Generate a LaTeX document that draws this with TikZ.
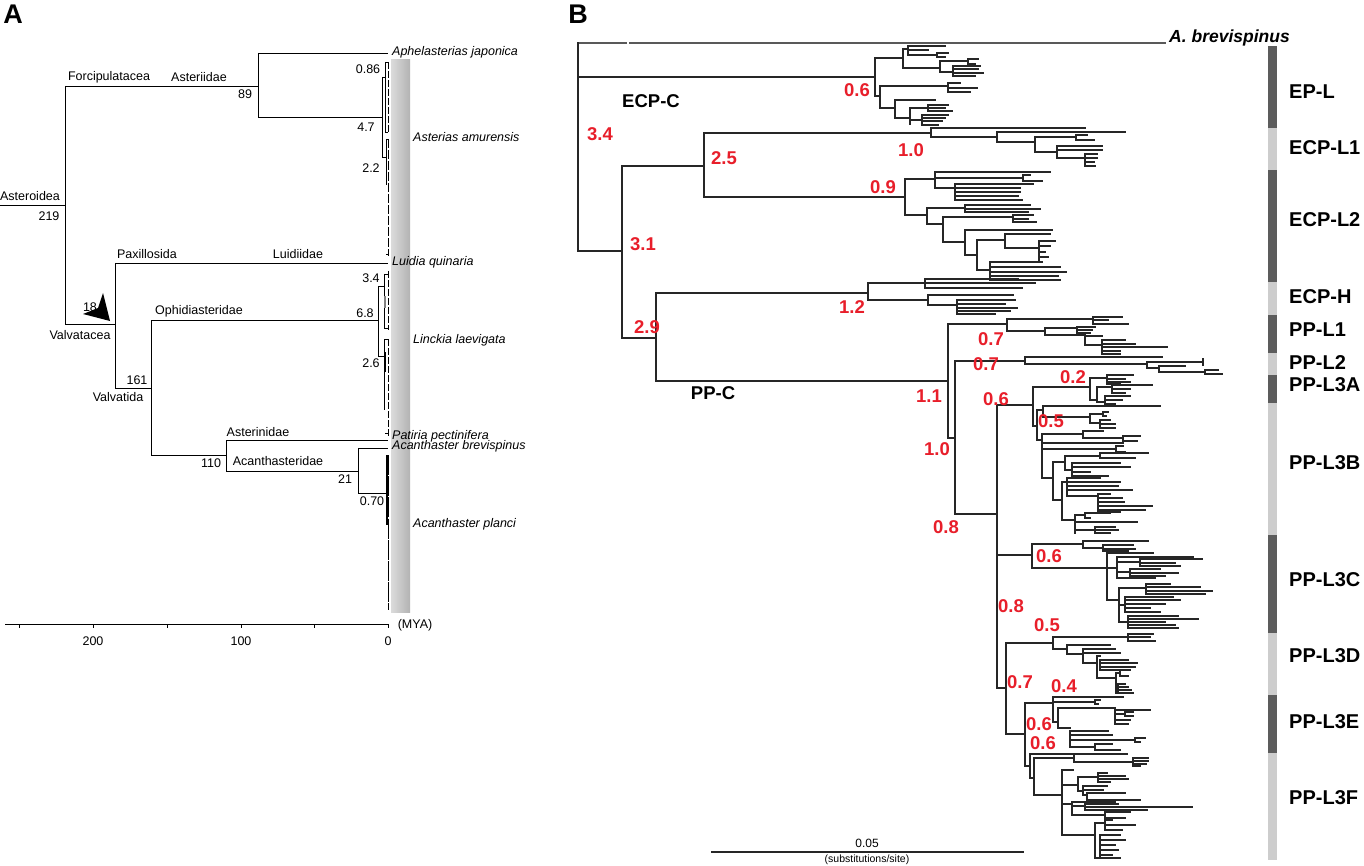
\documentclass[tikz,border=0pt]{standalone}
\usepackage{fontspec}
\setmainfont{Liberation Sans}
\definecolor{myred}{RGB}{232,30,42}
\definecolor{dkbar}{RGB}{92,92,92}
\definecolor{ltbar}{RGB}{205,205,205}
\newcommand\mycl[4]{%
  \draw[tB] (#1,#2) -- (#1,#3);
  \foreach \yy/\xx in {#4}{\draw[tB] (#1,\yy) -- (\xx,\yy);}%
}
\begin{document}
\begin{tikzpicture}[x=1pt,y=-1pt,
  tA/.style={draw=black,line width=0.9pt},
  tB/.style={draw=black!85,line width=1.1pt,line cap=rect},
  ta/.style={font=\fontsize{12.5}{15}\selectfont,inner sep=0pt},
  tai/.style={font=\fontsize{12.5}{15}\selectfont\itshape,inner sep=0pt,anchor=west},
  rl/.style={font=\fontsize{18.5}{20}\selectfont\bfseries,text=myred,inner sep=0pt},
  bl/.style={font=\fontsize{18.5}{20}\selectfont\bfseries,inner sep=0pt},
  grp/.style={font=\fontsize{20}{22}\selectfont\bfseries,inner sep=0pt,anchor=west},
  panel/.style={font=\fontsize{27}{30}\selectfont\bfseries,inner sep=0pt}]
\useasboundingbox (0,0) rectangle (1364,866);
\fill[white] (0,0) rectangle (1364,866);

%% ================= PANEL A =================
\node[panel] (labA) at (13,14) {A};
\shade[left color=gray!28, middle color=gray!6, right color=gray!60] (391,60) rectangle (410,612);

% backbone
\draw[tA] (0,205) -- (65,205);
\draw[tA] (65,86) -- (65,324);
\draw[tA] (65,86) -- (258,86);
\draw[tA] (258,53) -- (258,117);
\draw[tA] (258,53) -- (388,53);
\draw[tA] (258,117) -- (382,117);
\draw[tA] (65,324) -- (115,324);
\draw[tA] (115,263) -- (115,388);
\draw[tA] (115,263) -- (388,263);
\draw[tA] (115,388) -- (151,388);
\draw[tA] (151,320) -- (151,455);
\draw[tA] (151,320) -- (378,320);
\draw[tA] (151,455) -- (226,455);
\draw[tA] (226,440) -- (226,471);
\draw[tA] (226,440) -- (388,440);
\draw[tA] (226,471) -- (358,471);
\draw[tA] (358,448) -- (358,493);
\draw[tA] (358,448) -- (388,448);
\draw[tA] (358,493) -- (387,493);

% Asterias amurensis cluster
\draw[tA] (382,77) -- (382,157);
\draw[tA] (382,77) -- (385,77);
\draw[tA] (385,62) -- (385,132);
\foreach \yy in {62,132} {\draw[tA] (385,\yy) -- (388,\yy);}
\draw[tA,dash pattern=on 7pt off 2pt] (388,62) -- (388,132);
\draw[tA] (382,157) -- (386,157);
\draw[tA] (386,139) -- (386,185);
\draw[line width=1.6pt] (386.5,158) -- (386.5,182);
\foreach \yy in {139,254} {\draw[tA] (386,\yy) -- (388.5,\yy);}
\draw[tA,dash pattern=on 9pt off 2pt] (388.5,139) -- (388.5,256);

% Linckia cluster
\draw[tA] (378,286) -- (378,356);
\draw[tA] (378,286) -- (384,286);
\draw[tA] (384,274) -- (384,328);
\draw[line width=1.6pt,gray] (385,296) -- (385,308);
\foreach \yy in {274,328} {\draw[tA] (384,\yy) -- (388,\yy);}
\draw[tA,dash pattern=on 7pt off 2pt] (388,271) -- (388,330);
\draw[tA] (378,356) -- (384,356);
\draw[tA] (384,339) -- (384,410);
\draw[line width=1.5pt] (385,352) -- (385,372);
\foreach \yy in {339,433} {\draw[tA] (385,\yy) -- (388,\yy);}
\draw[tA,dash pattern=on 7pt off 2pt] (388,339) -- (388,436);

% Acanthaster planci cluster
\draw[line width=1.3pt] (387,455) -- (387,525);
\draw[tA,dash pattern=on 20pt off 1.2pt] (388,455) -- (388,610);

% taxon names
\node[tai] (aph) at (392,52) {Aphelasterias japonica};
\node[tai] (ast) at (413,137) {Asterias amurensis};
\node[tai] (lui) at (392,262) {Luidia quinaria};
\node[tai] (lin) at (413,340) {Linckia laevigata};
\node[tai] (pat) at (392,436) {Patiria pectinifera};
\node[tai] (acb) at (392,446) {Acanthaster brevispinus};
\node[tai] (acp) at (413,524) {Acanthaster planci};

% clade names and ages
\node[ta] (n1) at (30,196) {Asteroidea};
\node[ta] (n2) at (49,216) {219};
\node[ta] (n3) at (109,77) {Forcipulatacea};
\node[ta] (n4) at (199,77) {Asteriidae};
\node[ta] (n5) at (245,94) {89};
\node[ta] (n6) at (368,69) {0.86};
\node[ta] (n7) at (366,127) {4.7};
\node[ta] (n8) at (371,168) {2.2};
\node[ta] (n9) at (147,254) {Paxillosida};
\node[ta] (n10) at (298,254) {Luidiidae};
\node[ta] (n11) at (371,278) {3.4};
\node[ta] (n12) at (90,307) {18};
\node[ta] (n13) at (199,311) {Ophidiasteridae};
\node[ta] (n14) at (365,313) {6.8};
\node[ta] (n15) at (80,335) {Valvatacea};
\node[ta] (n16) at (371,363) {2.6};
\node[ta] (n17) at (137,380) {161};
\node[ta] (n18) at (118,397) {Valvatida};
\node[ta] (n19) at (258,432) {Asterinidae};
\node[ta] (n20) at (211,463) {110};
\node[ta] (n21) at (278,461) {Acanthasteridae};
\node[ta] (n22) at (345,479) {21};
\node[ta] (n23) at (372,501) {0.70};

% arrowhead
\fill[black] (103,293) -- (110,321) -- (83,314) -- (98,308) -- cycle;

% time axis
\draw[tA] (5,624) -- (388,624);
\foreach \xx in {19,93,167,241,314,388} {\draw[tA] (\xx,624) -- (\xx,628);}
\node[ta] (t200) at (93,641) {200};
\node[ta] (t100) at (241,641) {100};
\node[ta] (t0) at (388,641) {0};
\node[ta] (mya) at (415,625) {(MYA)};

%% ================= PANEL B =================
\node[panel] (labB) at (578,14) {B};

% outgroup
\draw[tB,draw=black!65] (578,43) -- (626,43);
\draw[tB,draw=black!65] (630,43) -- (1165,43);
\node[font=\fontsize{17.5}{20}\selectfont\bfseries\itshape,inner sep=0pt,anchor=west] (abr) at (1169,38) {A. brevispinus};

% backbone
\mycl{578}{43}{251}{77/875, 251/622}
\mycl{622}{166}{338}{166/704, 338/656}
\mycl{704}{133}{197}{133/931, 197/905}
\mycl{905}{179}{215}{179/935, 215/927}
\mycl{656}{293}{381}{293/868, 381/948}
\mycl{948}{324}{438}{324/1007, 438/955}
\mycl{955}{361}{514}{361/1025, 514/997}
\mycl{997}{405}{688}{405/1033, 555/1032, 688/1006}
\mycl{1032}{544}{568}{544/1083, 568/1107}
\mycl{1006}{643}{734}{643/1053, 734/1025}
\mycl{1025}{703}{766}{703/1053, 766/1030}

% EP-L
\mycl{875}{58}{96}{58/903, 96/880}
\mycl{903}{49}{68}{49/908, 68/940}
\mycl{908}{46}{55}{46/945, 50/928, 55/937}
\mycl{937}{53}{57}{53/948, 57/945}
\mycl{940}{61}{72}{61/968, 72/953}
\mycl{968}{59}{64}{59/978, 64/975}
\mycl{953}{66}{76}{66/980, 69/978, 73/983, 76/975}
\mycl{880}{86}{108}{86/948, 108/895}
\mycl{948}{83}{92}{83/960, 88/977, 92/970}
\mycl{895}{100}{118}{100/935, 118/910}
\mycl{910}{108}{124}{108/928, 120/922}
\mycl{928}{105}{111}{105/948, 108/945, 111/952}
\mycl{922}{115}{125}{115/948, 118/945, 121/942, 125/938}

% ECP-L1
\mycl{931}{128}{137}{128/1085, 137/997}
\mycl{997}{132}{142}{132/1125, 142/1035}
\mycl{1035}{137}{152}{137/1076, 152/1057}
\mycl{1076}{135}{140}{135/1087, 140/1094}
\mycl{1057}{146}{158}{146/1102, 150/1102, 158/1085}
\mycl{1085}{154}{166}{154/1097, 158/1097, 162/1094, 166/1095}

% ECP-L2
\mycl{935}{172}{188}{172/1050, 178/1023, 188/955}
\mycl{1023}{175}{181}{175/1030, 181/1042}
\mycl{955}{184}{200}{184/1033, 188/1020, 192/1020, 196/1018, 200/1022}
\mycl{927}{208}{224}{208/965, 224/943}
\mycl{965}{205}{212}{205/1030, 209/1040, 212/1028}
\mycl{943}{217}{242}{217/1013, 242/965}
\mycl{1013}{215}{222}{215/1033, 219/1028, 222/1036}
\mycl{965}{230}{255}{230/1052, 255/977}
\mycl{977}{240}{270}{240/1005, 270/990}
\mycl{1005}{234}{248}{234/1050, 248/1039}
\mycl{1039}{241}{262}{241/1055, 246/1050, 252/1045, 257/1048, 262/1042}
\mycl{990}{262}{280}{262/1042, 267/1060, 272/1066, 276/1058, 280/1060}

% ECP-H
\mycl{868}{283}{300}{283/925, 300/928}
\mycl{925}{279}{288}{279/1018, 283/1035, 288/1022}
\mycl{928}{295}{305}{295/1013, 305/957}
\mycl{957}{300}{314}{300/1015, 304/1005, 308/1017, 311/1010, 314/995}

% PP-L1
\mycl{1007}{319}{331}{319/1093, 331/1045}
\mycl{1093}{317}{324}{317/1122, 320/1108, 324/1128}
\mycl{1045}{328}{335}{328/1077, 335/1085}
\mycl{1077}{327}{333}{327/1095, 330/1092, 333/1090}
\mycl{1085}{336}{345}{336/1102, 345/1102}
\mycl{1102}{340}{354}{340/1125, 344/1135, 347/1167, 351/1120, 354/1120}

% PP-L2
\mycl{1025}{357}{364}{357/1162, 364/1147}
\mycl{1147}{362}{368}{362/1203, 368/1159}
\mycl{1159}{366}{372}{366/1185, 372/1205}
\mycl{1205}{370}{374}{370/1218, 374/1222}
\draw[tB] (1203,359) -- (1203,365);

% PP-L3A
\mycl{1033}{387}{426}{387/1090, 426/1037}
\mycl{1090}{378}{400}{378/1107, 400/1097}
\mycl{1107}{375}{384}{375/1133, 379/1125, 382/1130, 384/1120}
\mycl{1097}{387}{402}{387/1112, 402/1105}
\mycl{1112}{385}{393}{385/1152, 389/1130, 393/1125}
\mycl{1105}{396}{404}{396/1130, 400/1122, 404/1115}

% PP-L3B
\mycl{1037}{410}{440}{410/1043, 440/1042}
\mycl{1043}{406}{417}{406/1160, 417/1090}
\mycl{1090}{414}{423}{414/1103, 423/1100}
\mycl{1103}{412}{416}{412/1108, 416/1106}
\mycl{1100}{420}{428}{420/1110, 424/1115, 428/1115}
\mycl{1042}{434}{478}{434/1083, 443/1123, 449/1116, 478/1053}
\mycl{1083}{431}{438}{431/1103, 438/1123}
\mycl{1123}{436}{441}{436/1140, 441/1137}
\mycl{1116}{446}{452}{446/1123, 452/1125}
\mycl{1053}{462}{500}{462/1065, 500/1062}
\mycl{1065}{456}{470}{456/1100, 470/1072}
\mycl{1100}{453}{458}{453/1148, 458/1135}
\mycl{1072}{463}{476}{463/1120, 467/1130, 472/1090, 476/1108}
\mycl{1062}{482}{520}{482/1067, 520/1075}
\mycl{1067}{478}{496}{478/1100, 482/1120, 486/1118, 490/1132, 496/1098}
\mycl{1098}{494}{512}{494/1110, 498/1122, 502/1124, 506/1152, 510/1145, 512/1120}
\mycl{1075}{515}{533}{515/1085, 522/1137, 530/1095}
\mycl{1085}{513}{518}{513/1110, 518/1090}
\mycl{1095}{527}{533}{527/1115, 530/1118, 533/1110}

% PP-L3C
\mycl{1083}{541}{548}{541/1148, 548/1103}
\mycl{1103}{545}{551}{545/1133, 549/1135, 551/1128}
\mycl{1107}{553}{600}{553/1153, 568/1117, 600/1119}
\mycl{1117}{557}{578}{557/1193, 562/1140, 572/1130, 578/1155}
\mycl{1140}{559}{566}{559/1202, 563/1175, 566/1180}
\mycl{1130}{569}{576}{569/1160, 573/1178, 576/1165}
\mycl{1119}{588}{622}{588/1146, 605/1125, 622/1128}
\mycl{1146}{584}{594}{584/1170, 587/1200, 591/1212, 594/1205}
\mycl{1125}{597}{612}{597/1173, 600/1180, 604/1165, 608/1150, 612/1160}
\mycl{1128}{616}{628}{616/1178, 619/1198, 622/1165, 625/1175, 628/1178}

% PP-L3D
\mycl{1053}{637}{649}{637/1128, 649/1067}
\mycl{1128}{634}{641}{634/1153, 637/1150, 641/1155}
\mycl{1067}{645}{654}{645/1110, 654/1083}
\mycl{1083}{649}{663}{649/1115, 653/1120, 663/1097}
\mycl{1097}{656}{678}{656/1100, 678/1116}
\mycl{1100}{660}{670}{660/1128, 663/1137, 667/1135, 670/1130}
\mycl{1116}{673}{693}{673/1120, 693/1118}
\mycl{1120}{670}{676}{670/1130, 676/1128}
\mycl{1118}{684}{693}{684/1125, 687/1128, 690/1131, 693/1133}

% PP-L3E
\mycl{1053}{697}{722}{697/1123, 702/1095, 722/1058}
\mycl{1095}{700}{704}{700/1100, 704/1098}
\mycl{1058}{708}{728}{708/1115, 728/1070}
\mycl{1115}{710}{724}{710/1150, 714/1125, 720/1130, 724/1128}
\mycl{1125}{712}{716}{712/1133, 716/1133}
\mycl{1070}{731}{747}{731/1108, 735/1112, 740/1135, 747/1095}
\mycl{1135}{738}{742}{738/1145, 742/1140}
\mycl{1095}{744}{750}{744/1112, 750/1120}

% PP-L3F
\mycl{1030}{754}{778}{754/1127, 778/1034}
\mycl{1034}{758}{795}{758/1074, 795/1062}
\mycl{1074}{754}{762}{754/1108, 762/1133}
\mycl{1133}{758}{766}{758/1148, 761/1148, 764/1146, 766/1140}
\mycl{1062}{770}{835}{770/1073, 785/1078, 804/1072, 835/1095}
\mycl{1078}{777}{791}{777/1098, 791/1083}
\mycl{1098}{773}{782}{773/1107, 776/1125, 779/1128, 782/1110}
\mycl{1083}{786}{795}{786/1107, 790/1103, 795/1087}
\mycl{1087}{793}{800}{793/1125, 800/1140}
\mycl{1072}{802}{815}{802/1115, 806/1085, 815/1105}
\mycl{1085}{804}{810}{804/1118, 807/1192, 810/1147}
\mycl{1105}{812}{818}{812/1130, 818/1125}
\mycl{1095}{823}{858}{823/1105, 858/1100}
\mycl{1105}{820}{830}{820/1112, 825/1135, 830/1122}
\mycl{1100}{835}{858}{835/1120, 840/1125, 845/1115, 850/1118, 855/1112, 858/1120}

% red support values
\node[rl] (r1) at (857,90) {0.6};
\node[rl] (r2) at (600,134) {3.4};
\node[rl] (r3) at (724,158) {2.5};
\node[rl] (r4) at (911,150) {1.0};
\node[rl] (r5) at (883,187) {0.9};
\node[rl] (r6) at (643,244) {3.1};
\node[rl] (r7) at (852,307) {1.2};
\node[rl] (r8) at (647,327) {2.9};
\node[rl] (r9) at (991,339) {0.7};
\node[rl] (r10) at (986,364) {0.7};
\node[rl] (r11) at (1073,377) {0.2};
\node[rl] (r12) at (929,396) {1.1};
\node[rl] (r13) at (996,399) {0.6};
\node[rl] (r14) at (1051,421) {0.5};
\node[rl] (r15) at (937,449) {1.0};
\node[rl] (r16) at (946,527) {0.8};
\node[rl] (r17) at (1049,556) {0.6};
\node[rl] (r18) at (1011,606) {0.8};
\node[rl] (r19) at (1047,625) {0.5};
\node[rl] (r20) at (1020,682) {0.7};
\node[rl] (r21) at (1064,686) {0.4};
\node[rl] (r22) at (1039,724) {0.6};
\node[rl] (r23) at (1043,743) {0.6};

% black clade labels
\node[bl] (ecpc) at (651,101) {ECP-C};
\node[bl] (ppc) at (713,393) {PP-C};

% group bars
\fill[dkbar] (1268,46) rectangle (1277,128);
\fill[ltbar] (1268,128) rectangle (1277,170);
\fill[dkbar] (1268,170) rectangle (1277,282);
\fill[ltbar] (1268,282) rectangle (1277,315);
\fill[dkbar] (1268,315) rectangle (1277,353);
\fill[ltbar] (1268,353) rectangle (1277,375);
\fill[dkbar] (1268,375) rectangle (1277,403);
\fill[ltbar] (1268,403) rectangle (1277,535);
\fill[dkbar] (1268,535) rectangle (1277,633);
\fill[ltbar] (1268,633) rectangle (1277,695);
\fill[dkbar] (1268,695) rectangle (1277,753);
\fill[ltbar] (1268,753) rectangle (1277,860);

\node[grp] (g1) at (1289,92) {EP-L};
\node[grp] (g2) at (1289,148) {ECP-L1};
\node[grp] (g3) at (1289,220) {ECP-L2};
\node[grp] (g4) at (1289,297) {ECP-H};
\node[grp] (g5) at (1289,330) {PP-L1};
\node[grp] (g6) at (1289,363) {PP-L2};
\node[grp] (g7) at (1289,385) {PP-L3A};
\node[grp] (g8) at (1289,463) {PP-L3B};
\node[grp] (g9) at (1289,580) {PP-L3C};
\node[grp] (g10) at (1289,656) {PP-L3D};
\node[grp] (g11) at (1289,722) {PP-L3E};
\node[grp] (g12) at (1289,798) {PP-L3F};

% scale bar
\coordinate (sb1) at (711,852);
\coordinate (sb2) at (1024,852);
\draw[line width=1.1pt,black!85] (sb1) -- (sb2);
\node[font=\fontsize{12}{14}\selectfont,inner sep=0pt] (sbl) at (867,843) {0.05};
\node[font=\fontsize{10.5}{12}\selectfont,inner sep=0pt] (sbu) at (867,860) {(substitutions/site)};
\end{tikzpicture}
\end{document}
